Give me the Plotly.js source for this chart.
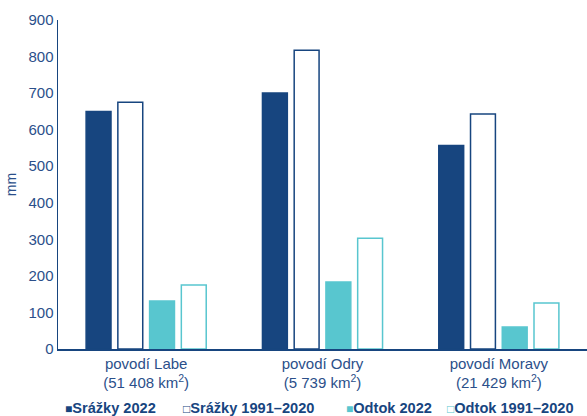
<!DOCTYPE html>
<html><head><meta charset="utf-8">
<script src="https://cdn.plot.ly/plotly-3.0.1.min.js"></script>
<style>html,body{margin:0;padding:0;background:#fff}#c{width:587px;height:416px}</style>
</head><body><div id="c"></div>
<script>
const categories = ["povodí Labe<br>(51 408 km<sup>2</sup>)", "povodí Odry<br>(5 739 km<sup>2</sup>)", "povodí Moravy<br>(21 429 km<sup>2</sup>)"];
const srazky2022 = [650, 700, 557];
const srazkyNormal = [675, 817, 643];
const odtok2022 = [131, 183, 60];
const odtokNormal = [175, 303, 126];
const seriesNames = ["Srážky 2022", "Srážky 1991–2020", "Odtok 2022", "Odtok 1991–2020"];
const yTicks = [0, 100, 200, 300, 400, 500, 600, 700, 800, 900];

const dark = "#17457F", cyan = "#58C6CF", txt = "#2B4F8A";
const fills = [dark, "#ffffff", cyan, "#ffffff"];
const lines = [dark, dark, cyan, cyan];
const symbols = ["■", "□", "■", "□"];
const values = [srazky2022, srazkyNormal, odtok2022, odtokNormal];
const legendX = [0.010, 0.233, 0.541, 0.731];

const data = values.map((v, i) => ({
  type: "bar", x: categories, y: v, name: seriesNames[i],
  marker: {color: fills[i], line: {color: lines[i], width: 1.5}},
  hoverinfo: "y", showlegend: false
}));
const annotations = seriesNames.map((n, i) => ({
  xref: "paper", yref: "paper", x: legendX[i], y: -0.179, xanchor: "left", yanchor: "middle",
  showarrow: false,
  text: "<span style='font-size:12px;color:" + lines[i] + "'>" + symbols[i] + "</span><b>" + n + "</b>",
  font: {size: 14.6, color: dark, family: "Liberation Sans, Arial, sans-serif"}
}));
const layout = {
  width: 587, height: 416,
  margin: {l: 58, r: 0, t: 20, b: 67},
  paper_bgcolor: "#fff", plot_bgcolor: "#fff",
  font: {family: "Liberation Sans, Arial, sans-serif", color: txt, size: 13},
  barmode: "group", bargap: 0.28, bargroupgap: 0.216,
  showlegend: false,
  annotations: annotations,
  xaxis: {showline: true, linecolor: dark, linewidth: 1.5, ticks: "", showgrid: false,
    tickfont: {size: 15, color: txt}, zeroline: false, fixedrange: true, automargin: false},
  yaxis: {range: [0, 900], tickvals: yTicks, showline: true, linecolor: dark, linewidth: 1.5,
    ticks: "", showgrid: false, zeroline: false, tickfont: {size: 15, color: txt}, automargin: false,
    title: {text: "mm", font: {size: 14, color: txt}, standoff: 8}}
};
Plotly.newPlot("c", data, layout, {displayModeBar: false, staticPlot: true});
</script></body></html>
